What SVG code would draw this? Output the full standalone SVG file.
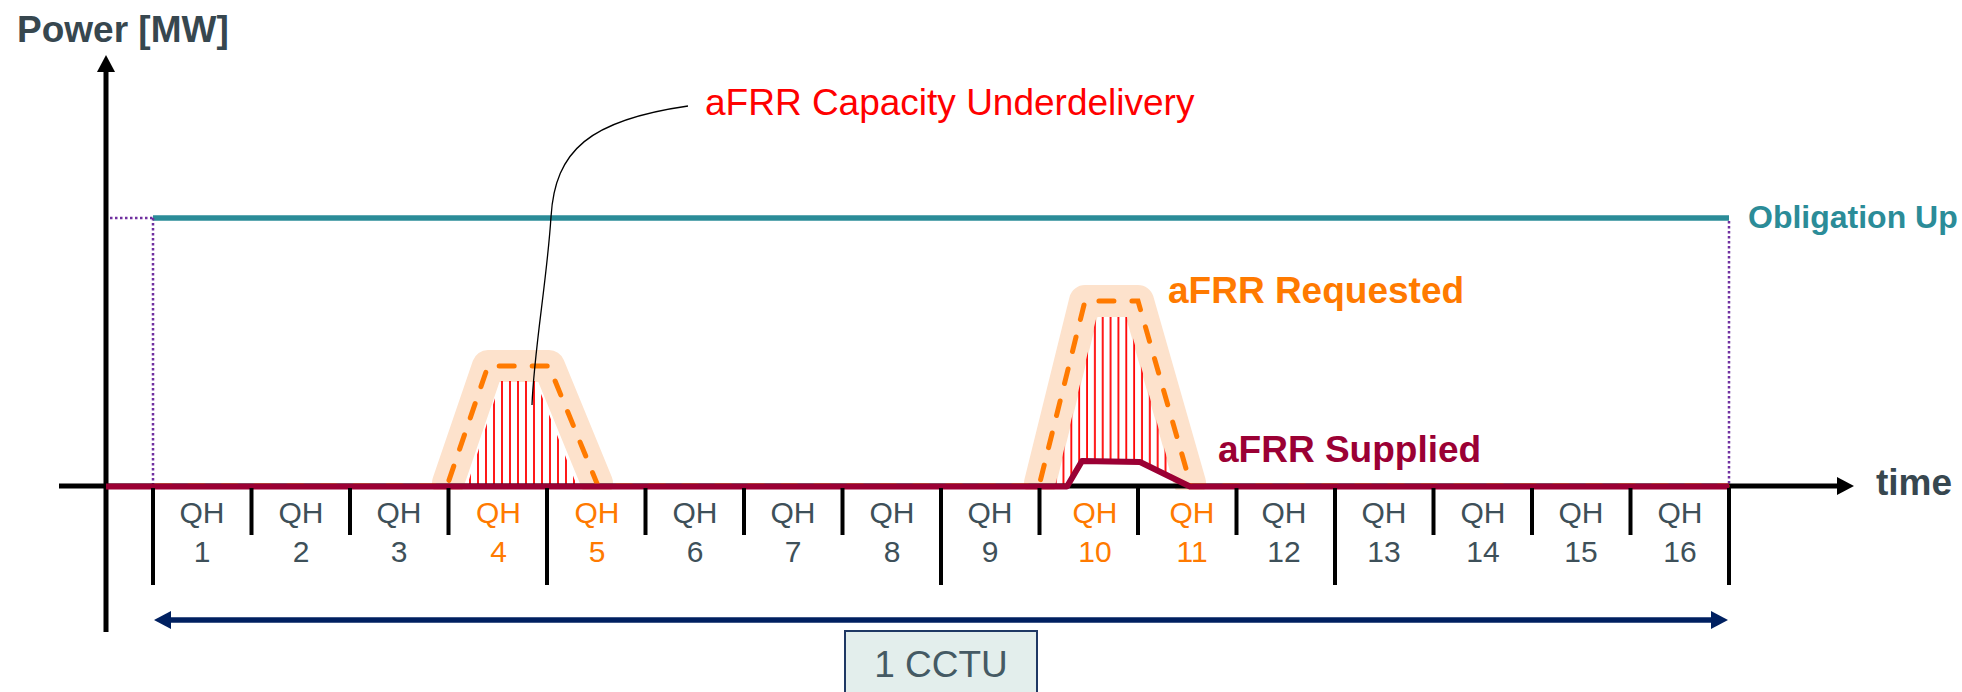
<svg xmlns="http://www.w3.org/2000/svg" width="1962" height="692" viewBox="0 0 1962 692">
<style>
text { font-family: "Liberation Sans", Arial, sans-serif; }
.ttl { font-size:37px; font-weight:bold; fill:#37474f; }
.qh { font-size:30px; fill:#3e5059; text-anchor:middle; }
.o { fill:#ff7a00; }
.tick { stroke:#000; stroke-width:4; }
.dot { stroke:#7030a0; stroke-width:2.5; stroke-dasharray:2.5 2.5; fill:none; }
.halo { fill:none; stroke:#fde2cc; stroke-width:32; stroke-linejoin:round; stroke-linecap:round; }
.req { fill:none; stroke:#ff7a00; stroke-width:5; stroke-dasharray:15 18; stroke-linecap:round; }
</style>
<defs>
<marker id="ab" markerUnits="userSpaceOnUse" markerWidth="18" markerHeight="18" refX="1" refY="9" orient="auto"><path d="M0,0 L17,9 L0,18 Z" fill="#000"/></marker>
<marker id="an" markerUnits="userSpaceOnUse" markerWidth="18" markerHeight="18" refX="1" refY="9" orient="auto-start-reverse"><path d="M0,0 L17,9 L0,18 Z" fill="#002060"/></marker>
<pattern id="h1" patternUnits="userSpaceOnUse" x="466" y="0" width="8" height="10"><rect x="3.1" y="0" width="1.8" height="10" fill="#ff0000"/></pattern>
<pattern id="h2" patternUnits="userSpaceOnUse" x="1059.5" y="0" width="7.85" height="10"><rect x="3.1" y="0" width="1.8" height="10" fill="#ff0000"/></pattern>
<clipPath id="above"><rect x="0" y="0" width="1962" height="490"/></clipPath>
</defs>

<g id="obligation">
<line x1="153" y1="218" x2="1729" y2="218" stroke="#2b8c98" stroke-width="5.5"/>
<path class="dot" d="M110,218 H153 M153,218 V484 M1729,221 V484"/>
<text x="1748" y="228" font-size="32" font-weight="bold" fill="#2b8c98">Obligation Up</text>
</g>

<g id="peak1">
<path class="halo" clip-path="url(#above)" d="M448,483 L488,366 L549,366 L597,483"/>
<polygon points="500.5,381 536,381 577,486 467,486" fill="url(#h1)"/>
</g>
<g id="peak2">
<path class="halo" clip-path="url(#above)" d="M1040,483 L1085,301 L1138,301 L1190,483"/>
<polygon points="1096.5,317 1127,317 1173,479 1140,461.7 1082,460.7 1067,486 1055,486" fill="url(#h2)"/>
</g>

<g id="axes">
<line x1="59" y1="486" x2="1838" y2="486" stroke="#000" stroke-width="5" marker-end="url(#ab)"/>
<line x1="106" y1="632" x2="106" y2="71" stroke="#000" stroke-width="5" marker-end="url(#ab)"/>
<text class="ttl" x="17" y="42">Power [MW]</text>
<text class="ttl" x="1876" y="495">time</text>
</g>

<g id="requested">
<path class="req" d="M156,486 L447,486 L488,366 L549,366 L598,486 L1039,486 L1085,301 L1138,301 L1191,486 L1727,486"/>
<text x="1168" y="303" font-size="37" font-weight="bold" fill="#ff7a00">aFRR Requested</text>
</g>

<g id="supplied">
<path d="M106,486.5 L1067,486.5 L1082,461 L1140,462 L1190,486.5 L1729,486.5" fill="none" stroke="#9b0034" stroke-width="6" stroke-linejoin="round"/>
<text x="1218" y="462" font-size="37" font-weight="bold" fill="#9b0034">aFRR Supplied</text>
</g>

<g id="ticks">
<line class="tick" x1="153" y1="488" x2="153" y2="585"/>
<line class="tick" x1="251.5" y1="488" x2="251.5" y2="535"/>
<line class="tick" x1="350" y1="488" x2="350" y2="535"/>
<line class="tick" x1="448.5" y1="488" x2="448.5" y2="535"/>
<line class="tick" x1="547" y1="488" x2="547" y2="585"/>
<line class="tick" x1="645.5" y1="488" x2="645.5" y2="535"/>
<line class="tick" x1="744" y1="488" x2="744" y2="535"/>
<line class="tick" x1="842.5" y1="488" x2="842.5" y2="535"/>
<line class="tick" x1="941" y1="488" x2="941" y2="585"/>
<line class="tick" x1="1039.5" y1="488" x2="1039.5" y2="535"/>
<line class="tick" x1="1138" y1="488" x2="1138" y2="535"/>
<line class="tick" x1="1236.5" y1="488" x2="1236.5" y2="535"/>
<line class="tick" x1="1335" y1="488" x2="1335" y2="585"/>
<line class="tick" x1="1433.5" y1="488" x2="1433.5" y2="535"/>
<line class="tick" x1="1532" y1="488" x2="1532" y2="535"/>
<line class="tick" x1="1630.5" y1="488" x2="1630.5" y2="535"/>
<line class="tick" x1="1729" y1="488" x2="1729" y2="585"/>
</g>

<g id="qh-labels">
<text class="qh" x="202" y="522.5">QH</text><text class="qh" x="202" y="561.5">1</text>
<text class="qh" x="301" y="522.5">QH</text><text class="qh" x="301" y="561.5">2</text>
<text class="qh" x="399" y="522.5">QH</text><text class="qh" x="399" y="561.5">3</text>
<text class="qh o" x="498.5" y="522.5">QH</text><text class="qh o" x="498.5" y="561.5">4</text>
<text class="qh o" x="597" y="522.5">QH</text><text class="qh o" x="597" y="561.5">5</text>
<text class="qh" x="695" y="522.5">QH</text><text class="qh" x="695" y="561.5">6</text>
<text class="qh" x="793" y="522.5">QH</text><text class="qh" x="793" y="561.5">7</text>
<text class="qh" x="892" y="522.5">QH</text><text class="qh" x="892" y="561.5">8</text>
<text class="qh" x="990" y="522.5">QH</text><text class="qh" x="990" y="561.5">9</text>
<text class="qh o" x="1095" y="522.5">QH</text><text class="qh o" x="1095" y="561.5">10</text>
<text class="qh o" x="1192" y="522.5">QH</text><text class="qh o" x="1192" y="561.5">11</text>
<text class="qh" x="1284" y="522.5">QH</text><text class="qh" x="1284" y="561.5">12</text>
<text class="qh" x="1384" y="522.5">QH</text><text class="qh" x="1384" y="561.5">13</text>
<text class="qh" x="1483" y="522.5">QH</text><text class="qh" x="1483" y="561.5">14</text>
<text class="qh" x="1581" y="522.5">QH</text><text class="qh" x="1581" y="561.5">15</text>
<text class="qh" x="1680" y="522.5">QH</text><text class="qh" x="1680" y="561.5">16</text>
</g>

<g id="underdelivery">
<path d="M688,106 C590,120 555,150 551,217 C547,280 534,350 532,405" fill="none" stroke="#000" stroke-width="1.3"/>
<text x="705" y="115" font-size="37" fill="#ff0000">aFRR Capacity Underdelivery</text>
</g>

<g id="cctu">
<line x1="170" y1="620" x2="1712" y2="620" stroke="#002060" stroke-width="5.5" marker-start="url(#an)" marker-end="url(#an)"/>
<rect x="845" y="631" width="192" height="75" fill="#e3eeec" stroke="#1f3864" stroke-width="2"/>
<text x="941" y="677" font-size="37" fill="#455a64" text-anchor="middle">1 CCTU</text>
</g>
</svg>
